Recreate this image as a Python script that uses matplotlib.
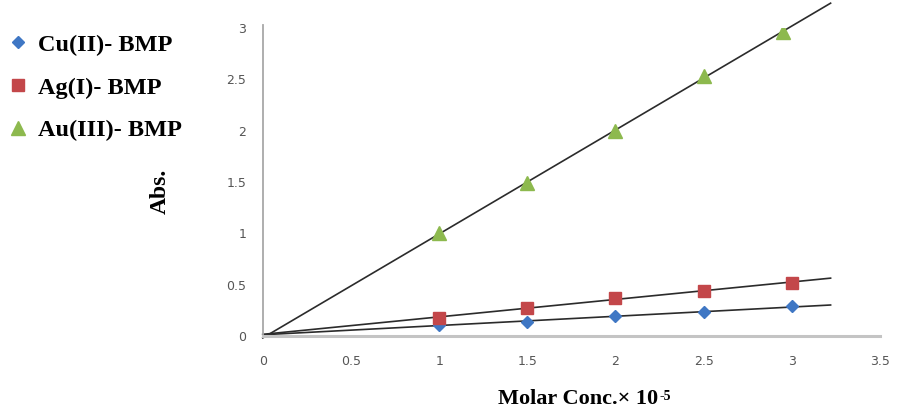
import numpy as np
import matplotlib
matplotlib.use("Agg")
import matplotlib.pyplot as plt

# Data
conc_cu = [1.0, 1.5, 2.0, 2.5, 3.0]
abs_cu = [0.11, 0.14, 0.19, 0.23, 0.29]
conc_ag = [1.0, 1.5, 2.0, 2.5, 3.0]
abs_ag = [0.18, 0.27, 0.37, 0.44, 0.52]
conc_au = [1.0, 1.5, 2.0, 2.5, 2.95]
abs_au = [1.0, 1.49, 2.0, 2.53, 2.96]
labels = ["Cu(II)- BMP", "Ag(I)- BMP", "Au(III)- BMP"]
xticks = [0, 0.5, 1, 1.5, 2, 2.5, 3, 3.5]
yticks = [0, 0.5, 1, 1.5, 2, 2.5, 3]
trend_end = 3.22

fig = plt.figure(figsize=(9.03, 4.11), dpi=100)
ax = fig.add_axes([0.291, 0.1825, 0.6835, 0.7495])

series = [
    (conc_cu, abs_cu, 'D', '#3F77C4', 6.5),
    (conc_ag, abs_ag, 's', '#C3474A', 9),
    (conc_au, abs_au, '^', '#8DB94E', 9.5),
]
handles = []
for (x, y, m, c, ms), lab in zip(series, labels):
    h, = ax.plot(x, y, linestyle='none', marker=m, color=c, markersize=ms,
                 label=lab, zorder=3)
    handles.append(h)
    k, b = np.polyfit(x, y, 1)
    xs = np.array([0.0, trend_end])
    ax.plot(xs, k * xs + b, color='#2b2b2b', lw=1.2, zorder=2, clip_on=False)

ax.set_xlim(0, 3.5)
ax.set_ylim(0, 3.0)
ax.set_xticks(xticks)
ax.set_yticks(yticks)
ax.set_xticklabels([f"{t:g}" for t in xticks])
ax.set_yticklabels([f"{t:g}" for t in yticks])
ax.tick_params(axis='both', length=0, labelsize=9, labelcolor='#555555',
               pad=12)
ax.tick_params(axis='x', pad=14)
for s in ['top', 'right']:
    ax.spines[s].set_visible(False)
ax.spines['left'].set_color('#A8A8A8')
ax.spines['left'].set_linewidth(1.3)
ax.spines['left'].set_bounds(0, 3.03)
ax.spines['bottom'].set_color('#C4C4C4')
ax.spines['bottom'].set_linewidth(2.2)

serif = ['Liberation Serif', 'DejaVu Serif']
fig.text(0.177, 0.535, "Abs.", rotation=90, ha='center', va='center',
         fontsize=17, fontweight='bold', family=serif)
xl = fig.text(0.5515, 0.018, "Molar Conc.× 10", ha='left', va='baseline',
              fontsize=16, fontweight='bold', family=serif)
ax.annotate("-5", xy=(1.0, 1.0), xycoords=xl, xytext=(1, -1),
            textcoords='offset points', ha='left', va='top',
            fontsize=10, fontweight='bold', family=serif,
            annotation_clip=False)

leg = fig.legend(handles=handles, labels=labels, loc='upper left',
                 bbox_to_anchor=(-0.004, 0.941), frameon=False,
                 prop={'family': serif, 'weight': 'bold', 'size': 17.5},
                 handletextpad=0.3, labelspacing=0.85, handlelength=1.0,
                 borderaxespad=0)

fig.savefig("out.png", dpi=100, facecolor='white')
